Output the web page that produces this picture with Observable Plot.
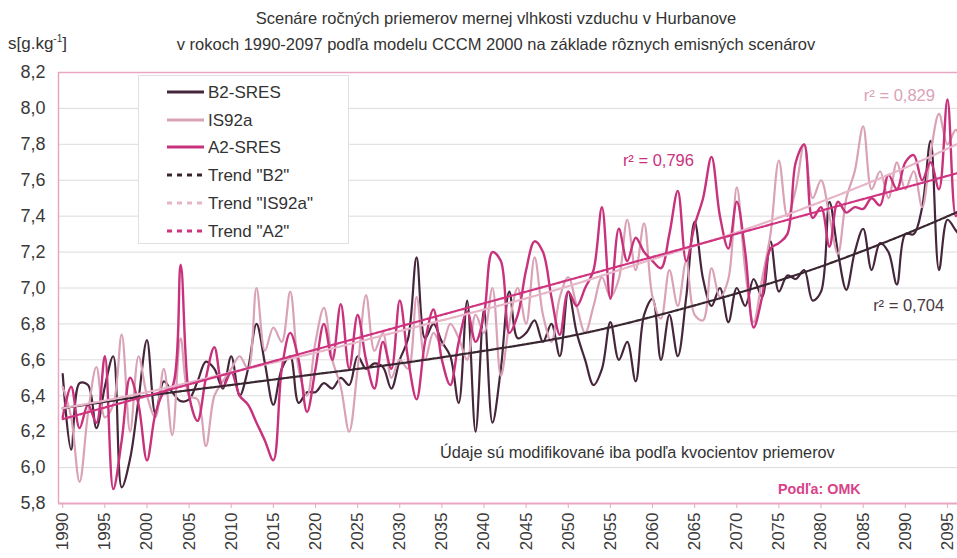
<!DOCTYPE html>
<html><head><meta charset="utf-8">
<script src="https://cdn.jsdelivr.net/npm/d3@7"></script>
<script src="https://cdn.jsdelivr.net/npm/@observablehq/plot@0.6"></script>
<style>
body{margin:0;background:#fff;font-family:"Liberation Sans",Arial,sans-serif;color:#333;}
#wrap{position:relative;width:957px;height:558px;overflow:hidden;background:#fff;}
#title{position:absolute;left:0;top:5px;width:992px;text-align:center;font-size:16.5px;line-height:26px;color:#333;}
#unit{position:absolute;left:8px;top:33px;font-size:17px;color:#333;}
#chart{position:absolute;left:0;top:56px;}
#legend{position:absolute;left:138px;top:75px;}
</style></head>
<body><div id="wrap">
<div id="title">Scenáre ročných priemerov mernej vlhkosti vzduchu v Hurbanove<br>v rokoch 1990-2097 podľa modelu CCCM 2000 na základe rôznych emisných scenárov</div>
<div id="unit">s[g.kg<sup style="font-size:10px">-1</sup>]</div>
<div id="chart"></div>
<div id="legend"></div>
</div>
<script>
const years = [1990,1991,1992,1993,1994,1995,1996,1997,1998,1999,
2000,2001,2002,2003,2004,2005,2006,2007,2008,2009,
2010,2011,2012,2013,2014,2015,2016,2017,2018,2019,
2020,2021,2022,2023,2024,2025,2026,2027,2028,2029,
2030,2031,2032,2033,2034,2035,2036,2037,2038,2039,
2040,2041,2042,2043,2044,2045,2046,2047,2048,2049,
2050,2051,2052,2053,2054,2055,2056,2057,2058,2059,
2060,2061,2062,2063,2064,2065,2066,2067,2068,2069,
2070,2071,2072,2073,2074,2075,2076,2077,2078,2079,
2080,2081,2082,2083,2084,2085,2086,2087,2088,2089,
2090,2091,2092,2093,2094,2095,2096,2097];

const b2Sres = [6.52,6.10,6.47,6.46,6.22,6.45,6.62,5.89,6.05,6.38,
6.71,6.30,6.48,6.42,6.37,6.38,6.48,6.59,6.55,6.44,
6.62,6.40,6.55,6.80,6.58,6.35,6.55,6.62,6.36,6.42,
6.42,6.47,6.44,6.50,6.46,6.62,6.55,6.58,6.56,6.44,
6.60,6.72,7.17,6.72,6.80,6.70,6.62,6.36,6.93,6.20,
6.88,6.25,6.55,6.98,6.72,6.75,6.82,6.70,6.80,6.62,
6.98,6.75,6.60,6.46,6.55,6.81,6.60,6.70,6.48,6.85,
6.94,6.60,6.85,6.62,6.95,7.37,7.05,6.90,7.00,6.81,
7.00,6.90,7.05,6.95,7.26,6.98,7.07,7.05,7.10,6.93,
6.98,7.48,7.20,6.99,7.20,7.33,7.10,7.25,7.20,7.02,
7.30,7.30,7.45,7.82,7.10,7.38,7.32,7.26];

const is92a = [6.45,6.28,5.92,6.30,6.56,6.28,6.35,6.74,6.20,6.62,
6.40,6.28,6.55,6.18,6.72,6.40,6.38,6.12,6.40,6.48,
6.55,6.62,6.55,7.00,6.65,6.78,6.70,6.98,6.55,6.40,
6.70,6.89,6.60,6.45,6.20,6.55,6.96,6.65,6.75,6.50,
6.60,6.55,6.95,6.60,6.75,6.68,6.80,6.72,6.60,6.85,
6.75,7.00,6.51,6.80,7.00,6.80,7.17,6.85,6.70,6.95,
7.06,6.90,6.75,6.90,7.06,6.95,7.05,7.38,7.10,7.36,
6.95,6.83,7.10,6.90,7.15,6.85,6.82,7.11,6.95,7.05,
7.56,7.10,6.81,7.05,7.30,7.71,7.40,7.55,7.80,7.50,
7.60,7.40,7.19,7.50,7.65,7.90,7.55,7.65,7.50,7.70,
7.55,7.65,7.45,7.75,7.97,7.80,7.88,7.75];

const a2Sres = [6.28,6.45,6.22,6.35,6.25,6.62,5.88,6.15,6.50,6.35,
6.04,6.30,6.42,6.45,7.13,6.40,6.26,6.50,6.67,6.45,
6.53,6.40,6.35,6.25,6.15,6.04,6.55,6.75,6.60,6.31,
6.55,6.80,6.60,6.91,6.55,6.85,6.60,6.44,6.70,6.55,
6.93,6.60,6.38,6.70,6.88,6.60,6.46,6.70,6.87,6.70,
6.85,7.20,7.15,6.75,6.85,7.10,7.26,7.20,6.95,6.74,
6.98,6.90,7.00,7.10,7.45,6.94,7.33,7.15,7.28,7.20,
7.15,7.11,7.30,7.54,7.15,7.35,7.50,7.73,7.40,7.22,
7.48,7.20,6.78,6.95,7.22,7.25,7.30,7.70,7.80,7.39,
7.45,7.23,7.48,7.42,7.45,7.44,7.50,7.46,7.63,7.55,
7.70,7.74,7.60,7.70,7.55,8.05,7.40,7.60];

// trend curves
const trendYears = [1990,2000,2010,2020,2030,2040,2050,2060,2070,2080,2090,2097];
const trendB2 = [6.33,6.40,6.46,6.52,6.58,6.65,6.73,6.84,6.97,7.12,7.30,7.44];
const trendIS92a = [6.33,6.42,6.53,6.64,6.76,6.88,7.01,7.16,7.31,7.48,7.67,7.82];
const trendA2Years = [1990,2097];
const trendA2 = [6.27,7.65];

const seriesNames = ["B2-SRES","IS92a","A2-SRES"];
const trendNames = ['Trend "B2"','Trend "IS92a"','Trend "A2"'];

const xTicks = [1990,1995,2000,2005,2010,2015,2020,2025,2030,2035,2040,2045,2050,2055,2060,2065,2070,2075,2080,2085,2090,2095];
const yTicks = [5.8,6.0,6.2,6.4,6.6,6.8,7.0,7.2,7.4,7.6,7.8,8.0,8.2];

const annoText = ["r² = 0,829","r² = 0,796","r² = 0,704","Údaje sú modifikované iba podľa kvocientov priemerov","Podľa: OMK"];
const annoX = [2089.3,2060.7,2090.4,2058.2,2079.8];
const annoY = [8.07,7.71,6.90,6.08,5.88];

const cB2 = "#45263a", cIS = "#d9a2b7", cA2 = "#c8327c";
const cTB2 = "#3a2630", cTIS = "#e6b5c8", cTA2 = "#d03480";
const pink = "#e9a6c2";

const mk = (ys, vs) => ys.map((y, i) => ({year: y, value: vs[i]}));
const dB2 = mk(years, b2Sres), dIS = mk(years, is92a), dA2 = mk(years, a2Sres);
const tB2 = mk(trendYears, trendB2), tIS = mk(trendYears, trendIS92a), tA2 = mk(trendA2Years, trendA2);
const anno = annoText.map((t, i) => ({text: t, x: annoX[i], y: annoY[i]}));

const chart = Plot.plot({
  width: 957, height: 502,
  marginTop: 16, marginBottom: 55, marginLeft: 58, marginRight: 0,
  style: {fontFamily: "'Liberation Sans', Arial, sans-serif", fontSize: "15px", color: "#333", background: "white"},
  x: {domain: [1989.5, 2097.5], range: [58, 968]},
  y: {domain: [5.8, 8.2]},
  marks: [
    Plot.gridY(yTicks, {stroke: "#dcdcdc", strokeOpacity: 1}),
    Plot.ruleY([yTicks[yTicks.length - 1]], {stroke: pink, strokeWidth: 1.5}),
    Plot.ruleX([1989.5], {stroke: pink, strokeWidth: 1.5}),
    Plot.axisY(yTicks, {tickFormat: d => d.toFixed(1).replace(".", ","), tickSize: 0, tickPadding: 13, fontSize: 18, fill: "#3a3a3a"}),
    Plot.axisX(xTicks, {tickFormat: d => String(d), tickRotate: -90, tickSize: 5, tickPadding: 4, fontSize: 17, fill: "#3a3a3a", stroke: pink}),
    Plot.line(dB2, {x: "year", y: "value", stroke: cB2, strokeWidth: 2.2, curve: "catmull-rom", clip: true}),
    Plot.line(dIS, {x: "year", y: "value", stroke: cIS, strokeWidth: 2.2, curve: "catmull-rom", clip: true}),
    Plot.line(dA2, {x: "year", y: "value", stroke: cA2, strokeWidth: 2.4, curve: "catmull-rom", clip: true}),
    Plot.line(tB2, {x: "year", y: "value", stroke: cTB2, strokeWidth: 2.2, strokeDasharray: "3,1.5", curve: "natural", clip: true}),
    Plot.line(tIS, {x: "year", y: "value", stroke: cTIS, strokeWidth: 2.2, strokeDasharray: "3,1.5", curve: "natural", clip: true}),
    Plot.line(tA2, {x: "year", y: "value", stroke: cTA2, strokeWidth: 2.2, strokeDasharray: "3,1.5", clip: true}),
    Plot.ruleY([yTicks[0]], {stroke: pink, strokeWidth: 2}),
    Plot.text([anno[0]], {x: "x", y: "y", text: "text", fill: cIS, fontSize: 16.5}),
    Plot.text([anno[1]], {x: "x", y: "y", text: "text", fill: cA2, fontSize: 16.5}),
    Plot.text([anno[2]], {x: "x", y: "y", text: "text", fill: "#4a3a42", fontSize: 16.5}),
    Plot.text([anno[3]], {x: "x", y: "y", text: "text", fill: "#333", fontSize: 16.3}),
    Plot.text([anno[4]], {x: "x", y: "y", text: "text", fill: "#d8438a", fontSize: 14.3, fontWeight: "bold"})
  ]
});
document.getElementById("chart").appendChild(chart);

// legend
const legItems = [
  {name: seriesNames[0], color: cB2, dash: null},
  {name: seriesNames[1], color: cIS, dash: null},
  {name: seriesNames[2], color: cA2, dash: null},
  {name: trendNames[0], color: cTB2, dash: "5,5"},
  {name: trendNames[1], color: cTIS, dash: "5,5"},
  {name: trendNames[2], color: cTA2, dash: "5,5"}
];
const lg = d3.select("#legend").append("svg").attr("width", 211).attr("height", 169);
lg.append("rect").attr("x", 0.5).attr("y", 0.5).attr("width", 210).attr("height", 168).attr("fill", "#fff").attr("stroke", "#e0e0e0");
const rowY = [17, 45, 72, 100, 128, 156];
legItems.forEach((d, i) => {
  lg.append("line").attr("x1", 29).attr("x2", 66).attr("y1", rowY[i]).attr("y2", rowY[i])
    .attr("stroke", d.color).attr("stroke-width", 3).attr("stroke-dasharray", d.dash);
  lg.append("text").attr("x", 70).attr("y", rowY[i]).attr("dy", "0.35em")
    .attr("font-size", 17).attr("fill", "#333").attr("font-family", "'Liberation Sans', Arial, sans-serif").text(d.name);
});
</script>
</body></html>
